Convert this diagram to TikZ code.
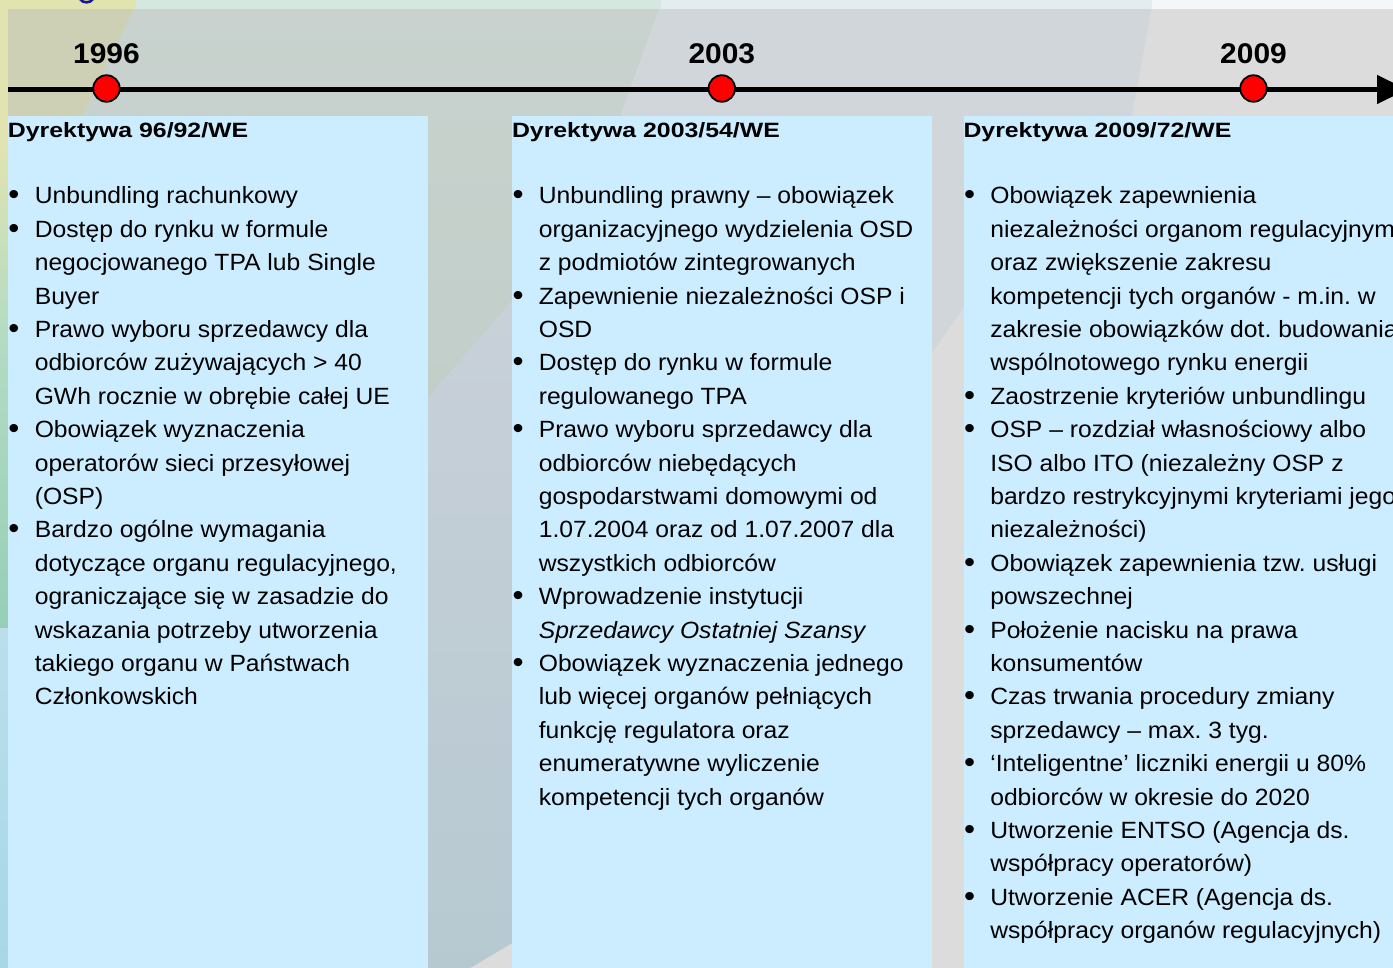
\documentclass[tikz,border=0pt]{standalone}
\usepackage{fontspec}
\setmainfont{Liberation Sans}
\newfontfamily\bodyfont{Liberation Sans}[FakeStretch=1.05]
\newfontfamily\headfont{Liberation Sans}[FakeStretch=1.2]
\usetikzlibrary{arrows.meta}
\frenchspacing
\definecolor{boxblue}{HTML}{CCECFF}
\definecolor{greybase}{HTML}{DCDCDC}
\definecolor{lightband}{HTML}{D0D6D9}
\definecolor{bluetop}{HTML}{CAD1D9}
\definecolor{bluebot}{HTML}{B6C9D1}
\definecolor{greentop}{HTML}{C9D2CE}
\definecolor{greenbot}{HTML}{B8CAC3}
\definecolor{yellowcomp}{HTML}{CED0B6}
\definecolor{rawyellow}{HTML}{E1E4B1}
\definecolor{rawgreen}{HTML}{D5E8DF}
\definecolor{rawlight}{HTML}{E3ECEE}
\definecolor{rawwhite}{HTML}{F3F7F9}
\definecolor{stripgreen}{HTML}{B4DCC2}
\definecolor{stripgreendark}{HTML}{96CFB6}
\definecolor{stripbluetop}{HTML}{BADFEA}
\definecolor{stripbluebot}{HTML}{A8D7E6}
\definecolor{titleblue}{HTML}{1A1A8C}
\newcommand{\bul}{\makebox[26.8pt][l]{\hspace{0.5pt}\raisebox{-1pt}{\fontsize{30}{30}\selectfont\textbullet}}}
\tikzset{
  panel/.style={fill=boxblue, draw=none, inner sep=0pt, outer sep=0pt, anchor=north west},
  listtext/.style={inner sep=0pt, outer sep=0pt, anchor=base west, align=left,
    font=\bodyfont\fontsize{23.5}{33.4}\selectfont\frenchspacing},
  headtext/.style={inner sep=0pt, outer sep=0pt, anchor=base west,
    font=\headfont\bfseries\fontsize{20.7}{24}\selectfont},
  yeartext/.style={inner sep=0pt, outer sep=0pt, anchor=base,
    font=\bodyfont\bfseries\fontsize{28.5}{32}\selectfont},
  yeardot/.style={circle, fill=red, draw=black, line width=1.8pt, minimum size=26.5pt, inner sep=0pt},
  timeline/.style={line width=4.5pt, -{Triangle[length=30pt,width=28pt]}}
}
\begin{document}
\begin{tikzpicture}[x=1pt,y=-1pt]
\useasboundingbox (0,0) rectangle (1393,968);
\clip (0,0) rectangle (1393,968);
% background
\fill[greybase] (0,0) rectangle (1393,968);
\fill[lightband] (0,0) -- (1153,0) -- (1132,116) -- (964,307) -- (932,353) -- (512,943) -- (470,968) -- (0,968) -- cycle;
\shade[top color=bluetop, bottom color=bluebot] (560,245) -- (0,892) -- (0,968) -- (470,968) -- (512,943) -- (560,876) -- cycle;
\shade[top color=greentop, bottom color=greenbot] (138,0) -- (662,0) -- (620,116) -- (560,245) -- (0,892) -- (0,290) -- cycle;
\fill[yellowcomp] (0,0) -- (138,0) -- (0,290) -- cycle;
% top strip
\fill[rawyellow] (0,0) rectangle (136,9);
\fill[rawgreen] (136,0) rectangle (661,9);
\fill[rawlight] (661,0) rectangle (1152,9);
\fill[rawwhite] (1152,0) rectangle (1393,9);
\draw[titleblue, line width=2.6pt, line cap=round] (80,-1) .. controls (83,3.5) and (90,3.5) .. (93,-1);
% left strip
\fill[rawyellow] (0,0) rectangle (8,140);
\shade[top color=rawyellow, bottom color=stripgreen] (0,140) rectangle (8,330);
\shade[top color=stripgreen, bottom color=stripgreendark] (0,330) rectangle (8,628);
\shade[top color=stripbluetop, bottom color=stripbluebot] (0,628) rectangle (8,968);
% panels
\node[panel, minimum width=420pt, minimum height=852pt] (p1) at (8,116) {};
\node[panel, minimum width=420pt, minimum height=852pt] (p2) at (512,116) {};
\node[panel, minimum width=432pt, minimum height=852pt] (p3) at (963.5,116) {};
% timeline
\coordinate (tstart) at (8,89.5);
\coordinate (tend) at (1407,89.5);
\draw[timeline] (tstart) -- (tend);
\node[yeardot] (d1) at (106.5,88.5) {};
\node[yeardot] (d2) at (721.8,88.5) {};
\node[yeardot] (d3) at (1253.5,88.5) {};
\node[yeartext] (y1) at (106.5,63.5) {1996};
\node[yeartext] (y2) at (721.8,63.5) {2003};
\node[yeartext] (y3) at (1253.5,63.5) {2009};
% headings
\node[headtext] (h1) at (8,137.3) {Dyrektywa 96/92/WE};
\node[headtext] (h2) at (512,137.3) {Dyrektywa 2003/54/WE};
\node[headtext] (h3) at (963.5,137.3) {Dyrektywa 2009/72/WE};
% lists
\node[listtext] (l1) at (8,204) {\begin{tabular}[t]{@{}l@{}l@{}}
\bul & Unbundling rachunkowy\\
\bul & Dostęp do rynku w formule\\
 & negocjowanego TPA lub Single\\
 & Buyer\\
\bul & Prawo wyboru sprzedawcy dla\\
 & odbiorców zużywających > 40\\
 & GWh rocznie w obrębie całej UE\\
\bul & Obowiązek wyznaczenia\\
 & operatorów sieci przesyłowej\\
 & (OSP)\\
\bul & Bardzo ogólne wymagania\\
 & dotyczące organu regulacyjnego,\\
 & ograniczające się w zasadzie do\\
 & wskazania potrzeby utworzenia\\
 & takiego organu w Państwach\\
 & Członkowskich
\end{tabular}};
\node[listtext] (l2) at (512,204) {\begin{tabular}[t]{@{}l@{}l@{}}
\bul & Unbundling prawny – obowiązek\\
 & organizacyjnego wydzielenia OSD\\
 & z podmiotów zintegrowanych\\
\bul & Zapewnienie niezależności OSP i\\
 & OSD\\
\bul & Dostęp do rynku w formule\\
 & regulowanego TPA\\
\bul & Prawo wyboru sprzedawcy dla\\
 & odbiorców niebędących\\
 & gospodarstwami domowymi od\\
 & 1.07.2004 oraz od 1.07.2007 dla\\
 & wszystkich odbiorców\\
\bul & Wprowadzenie instytucji\\
 & \textit{Sprzedawcy Ostatniej Szansy}\\
\bul & Obowiązek wyznaczenia jednego\\
 & lub więcej organów pełniących\\
 & funkcję regulatora oraz\\
 & enumeratywne wyliczenie\\
 & kompetencji tych organów
\end{tabular}};
\node[listtext] (l3) at (963.5,204) {\begin{tabular}[t]{@{}l@{}l@{}}
\bul & Obowiązek zapewnienia\\
 & niezależności organom regulacyjnym\\
 & oraz zwiększenie zakresu\\
 & kompetencji tych organów - m.in. w\\
 & zakresie obowiązków dot. budowania\\
 & wspólnotowego rynku energii\\
\bul & Zaostrzenie kryteriów unbundlingu\\
\bul & OSP – rozdział własnościowy albo\\
 & ISO albo ITO (niezależny OSP z\\
 & bardzo restrykcyjnymi kryteriami jego\\
 & niezależności)\\
\bul & Obowiązek zapewnienia tzw. usługi\\
 & powszechnej\\
\bul & Położenie nacisku na prawa\\
 & konsumentów\\
\bul & Czas trwania procedury zmiany\\
 & sprzedawcy – max. 3 tyg.\\
\bul & ‘Inteligentne’ liczniki energii u 80\%\\
 & odbiorców w okresie do 2020\\
\bul & Utworzenie ENTSO (Agencja ds.\\
 & współpracy operatorów)\\
\bul & Utworzenie ACER (Agencja ds.\\
 & współpracy organów regulacyjnych)
\end{tabular}};
\end{tikzpicture}
\end{document}
